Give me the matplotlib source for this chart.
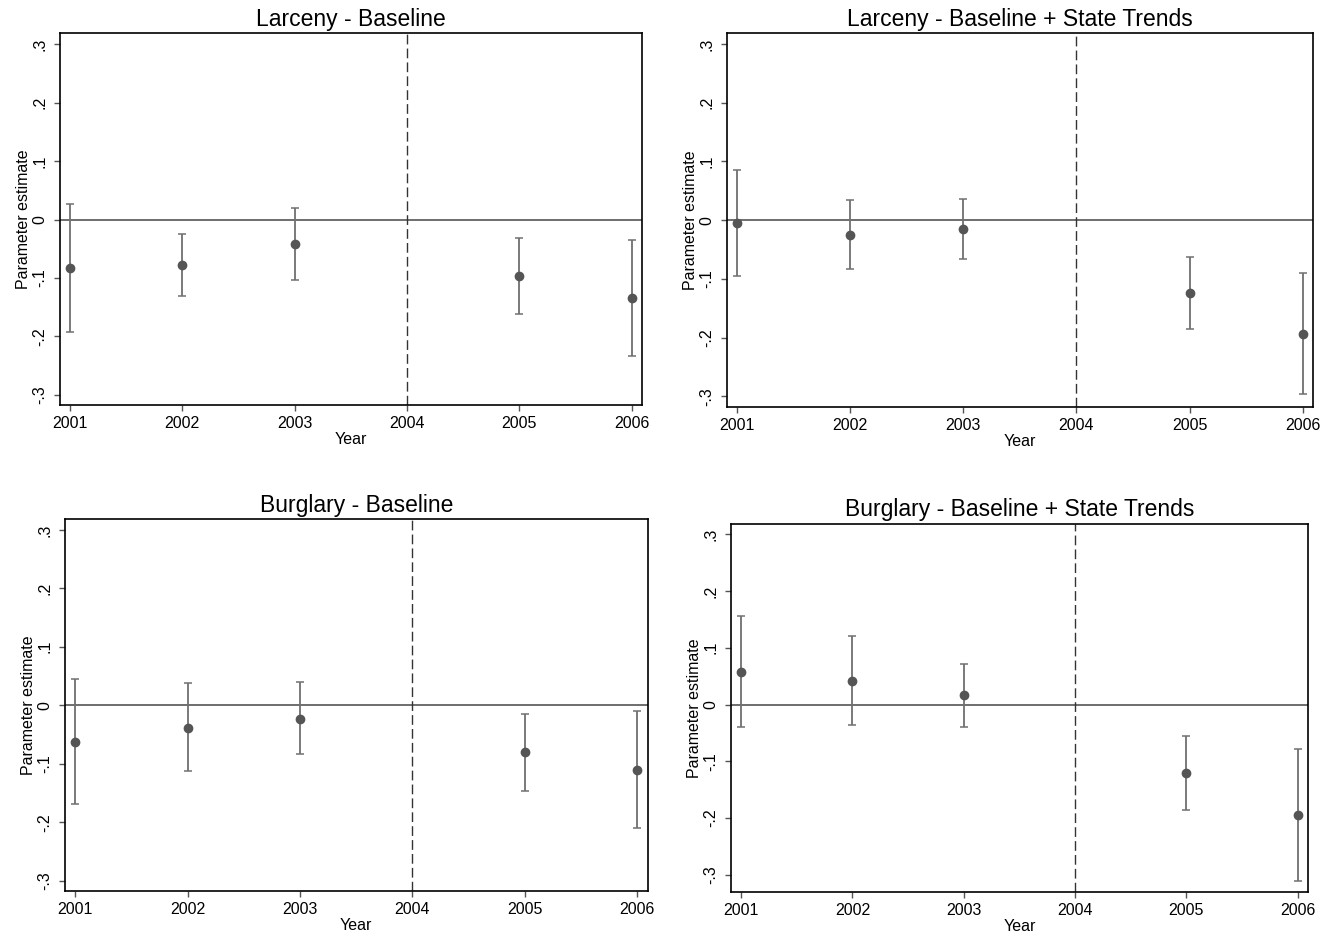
import matplotlib
matplotlib.use("Agg")
import matplotlib.pyplot as plt

plt.rcParams['font.family'] = ['Liberation Sans', 'DejaVu Sans']

years = [2001, 2002, 2003, 2005, 2006]
event_year = 2004
tick_years = [2001, 2002, 2003, 2004, 2005, 2006]
y_ticks = [-0.3, -0.2, -0.1, 0.0, 0.1, 0.2, 0.3]
y_tick_labels = ["-.3", "-.2", "-.1", "0", ".1", ".2", ".3"]

titles = [
    "Larceny - Baseline",
    "Larceny - Baseline + State Trends",
    "Burglary - Baseline",
    "Burglary - Baseline + State Trends",
]

# point estimates and 95% confidence bounds
larceny_base_est = [-0.083, -0.078, -0.042, -0.097, -0.135]
larceny_base_lo = [-0.192, -0.131, -0.103, -0.162, -0.233]
larceny_base_hi = [0.026, -0.024, 0.020, -0.032, -0.035]

larceny_trend_est = [-0.004, -0.025, -0.015, -0.124, -0.193]
larceny_trend_lo = [-0.095, -0.083, -0.066, -0.185, -0.296]
larceny_trend_hi = [0.086, 0.035, 0.036, -0.062, -0.090]

burglary_base_est = [-0.062, -0.038, -0.023, -0.080, -0.110]
burglary_base_lo = [-0.168, -0.112, -0.084, -0.146, -0.210]
burglary_base_hi = [0.045, 0.038, 0.039, -0.015, -0.009]

burglary_trend_est = [0.058, 0.042, 0.016, -0.120, -0.195]
burglary_trend_lo = [-0.040, -0.036, -0.040, -0.186, -0.311]
burglary_trend_hi = [0.156, 0.120, 0.072, -0.055, -0.079]

panels = [
    (larceny_base_est, larceny_base_lo, larceny_base_hi),
    (larceny_trend_est, larceny_trend_lo, larceny_trend_hi),
    (burglary_base_est, burglary_base_lo, burglary_base_hi),
    (burglary_trend_est, burglary_trend_lo, burglary_trend_hi),
]

W, H = 1325, 940
# axes boxes in pixels: left, top, right, bottom
boxes = [
    (59.5, 33.3, 642.3, 405.3),
    (726.7, 33.3, 1313.3, 407.0),
    (64.7, 519.3, 647.7, 890.7),
    (730.7, 523.7, 1308.3, 892.0),
]
ylims = [(-0.318, 0.319), (-0.318, 0.318), (-0.317, 0.318), (-0.3306, 0.3188)]
xlim = (2000.906, 2006.095)

fig = plt.figure(figsize=(W / 100, H / 100), dpi=100)

for (est, lo, hi), title, box, ylim in zip(panels, titles, boxes, ylims):
    l, t, r, b = box
    ax = fig.add_axes([l / W, 1 - b / H, (r - l) / W, (b - t) / H])
    ax.set_xlim(*xlim)
    ax.set_ylim(*ylim)

    ax.axhline(0, color="#555555", lw=1.2, zorder=1)
    ax.axvline(event_year, color="#333333", lw=1.0, dashes=(7, 3), zorder=1)

    err_lo = [e - a for e, a in zip(est, lo)]
    err_hi = [c - e for e, c in zip(est, hi)]
    ax.errorbar(years, est, yerr=[err_lo, err_hi], fmt="none",
                ecolor="#707070", elinewidth=1.3, capsize=2.6, capthick=1.1,
                zorder=2)
    ax.plot(years, est, "o", color="#555555", markersize=6, zorder=3)

    ax.set_xticks(tick_years)
    ax.set_xticklabels([str(y) for y in tick_years], fontsize=11.5)
    ax.set_yticks(y_ticks)
    ax.set_yticklabels(y_tick_labels, fontsize=11.5, rotation=90, va="center")
    ax.tick_params(axis="both", length=4.5, width=1.0, color="#555555")
    ax.tick_params(axis="x", pad=3.5)
    ax.tick_params(axis="y", pad=4.5)

    for s in ax.spines.values():
        s.set_color("black")
        s.set_linewidth(1.2)

    ax.set_title(title, fontsize=16.5, pad=5.4)
    ax.set_xlabel("Year", fontsize=11.5)
    ax.set_ylabel("Parameter estimate", fontsize=11.5)
    ax.xaxis.set_label_coords(0.5, -27.0 / (b - t))
    ax.xaxis.label.set_va("top")
    ax.yaxis.set_label_coords(-28.5 / (r - l), 0.5)

fig.savefig("out.png", dpi=100, facecolor="white")
